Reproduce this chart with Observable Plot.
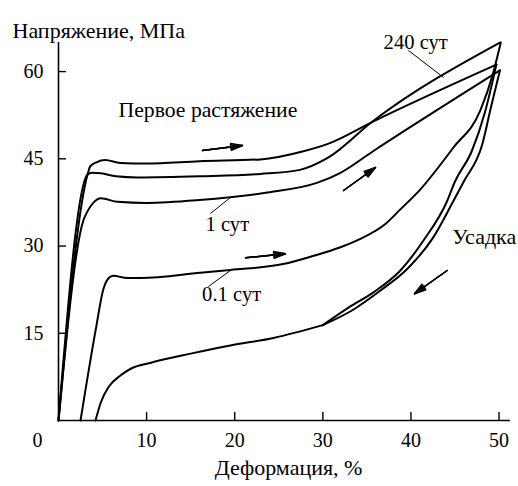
<!DOCTYPE html>
<html>
<head>
<meta charset="utf-8">
<script src="https://cdn.jsdelivr.net/npm/d3@7"></script>
<script src="https://cdn.jsdelivr.net/npm/@observablehq/plot@0.6"></script>
<style>
  body { margin: 0; background: #fff; }
</style>
</head>
<body>
<div id="chart"></div>
<script>
// Stress–strain loops: strain, % (first value) vs stress, MPa (second value)

// loading curves
const loadTop = [[0,0],[3.3,42.3],[3.6,43.7],[4.3,44.4],[5.3,44.8],[7,44.3],[10,44.2],[16,44.6],[22.9,44.9],[27.8,46.3],[30.8,47.7],[35.7,51.4],[49.7,61.2]];
const load240 = [[0,0],[3.3,42.3],[3.8,42.6],[4.8,42.5],[6.5,42.0],[9,41.8],[16,42.0],[22.9,42.4],[27.4,43.1],[30.5,45.1],[35.7,51.5],[50.1,65]];
const load1 = [[0,0],[2.8,34.3],[3.3,36],[4,37.5],[4.8,38.2],[6.7,37.6],[10,37.4],[16,37.9],[23.7,39.2],[29.4,40.9],[32,42.6],[35.7,46.3],[50.1,60.2]];
const load01 = [[2.5,0],[4.2,15.4],[5.1,22.6],[5.7,24.5],[6.2,24.9],[7.8,24.5],[9.3,24.5],[16.1,25.4],[19.5,25.9],[25.5,26.9],[28.9,28.3],[32,29.8],[34.2,31.2],[37.1,33.8],[38.8,36.3],[41.1,39.8],[44.8,46.9],[47.9,53.4],[49.3,59.6],[50.2,65]];

// shrinkage (unloading) curves
const shrinkBase = [[4.2,0],[4.8,3.1],[5.7,5.8],[7,7.7],[8.2,8.9],[10.4,9.9],[15,11.5],[19.5,12.9],[24.4,14.2],[30,16.4]];
const shrinkA = [[30,16.4],[33,19.5],[35.7,22.0],[38.8,25.8],[41.4,30.9],[44.1,37.7],[45,41.1],[46.9,46.3],[48.4,53],[49.7,61.2]];
const shrinkB = [[30,16.4],[33.4,19.0],[36.5,22.3],[39.6,26.1],[42.5,31.4],[44.8,37.7],[46,41.1],[48.1,47.5],[49.1,54],[50.1,60.2]];

const xTicks = [10, 20, 30, 40, 50];
const yTicks = [15, 30, 45, 60];

const curves = {loadTop, load240, load1, load01, shrinkBase, shrinkA, shrinkB};
const rows = Object.entries(curves).flatMap(([name, pts]) =>
  pts.map(([strain, stress]) => ({name, strain, stress})));

// direction arrows
const arrows = [
  {x1: 16.34, y1: 46.43, x2: 20.88, y2: 47.29},
  {x1: 32.35, y1: 39.55, x2: 35.98, y2: 43.51},
  {x1: 21.22, y1: 27.98, x2: 25.76, y2: 28.67},
  {x1: 44.11, y1: 25.80, x2: 40.40, y2: 21.79}
];

// curve labels and their leader lines
const labels = [
  {text: "Первое растяжение", x: 6.81, y: 53.4, size: 21.7},
  {text: "240 сут", x: 36.9, y: 65.0, size: 20.6},
  {text: "1 сут", x: 16.69, y: 33.7, size: 20.6},
  {text: "0.1 сут", x: 16.3, y: 21.7, size: 20.6},
  {text: "Усадка", x: 44.68, y: 31.6, size: 22}
];
const leaders = [
  {x1: 39.72, y1: 63.63, x2: 43.70, y2: 58.98},
  {x1: 17.25, y1: 35.60, x2: 19.52, y2: 38.35},
  {x1: 17.02, y1: 23.04, x2: 19.52, y2: 25.80}
];

const arrowHead = (angle) => Plot.arrow(arrows, {
  x1: "x1", y1: "y1", x2: "x2", y2: "y2",
  stroke: "black", strokeWidth: 1.4, headLength: 13, headAngle: angle
});

const chart = Plot.plot({
  width: 518,
  height: 486,
  marginLeft: 58,
  marginRight: 8,
  marginTop: 42,
  marginBottom: 66,
  style: {fontFamily: "'Liberation Serif', 'Times New Roman', serif", fontSize: "20px", background: "#fff", color: "#000"},
  x: {domain: [0, 51.3], label: null},
  y: {domain: [0, 65], label: null},
  marks: [
    // axis lines and inward ticks
    Plot.ruleX([0], {stroke: "black", strokeWidth: 1.6}),
    Plot.ruleY([0], {stroke: "black", strokeWidth: 1.6}),
    Plot.ruleX(xTicks, {stroke: "black", strokeWidth: 1.4, insetTop: 370}),
    Plot.ruleY(yTicks, {stroke: "black", strokeWidth: 1.4, insetRight: 444}),
    Plot.axisX({ticks: xTicks, tickSize: 0, tickPadding: 12, fontSize: 20}),
    Plot.axisY({ticks: yTicks, tickSize: 0, tickPadding: 15, fontSize: 20}),
    Plot.text([0], {x: 0, y: 0, text: d => String(d), dx: -21, dy: 20, fontSize: 20}),
    // axis titles
    Plot.text(["Напряжение, МПа"], {frameAnchor: "top-left", textAnchor: "start", dx: -46, dy: -20, fontSize: 22}),
    Plot.text(["Деформация, %"], {frameAnchor: "bottom", dx: 4, dy: 54, fontSize: 22}),
    // curves
    Plot.line(rows, {x: "strain", y: "stress", z: "name", stroke: "black", strokeWidth: 2, curve: "monotone-x"}),
    // annotations
    Plot.link(leaders, {x1: "x1", y1: "y1", x2: "x2", y2: "y2", stroke: "black", strokeWidth: 1}),
    arrowHead(34), arrowHead(22), arrowHead(10),
    Plot.text(labels, {x: "x", y: "y", text: "text", textAnchor: "start", fontSize: d => d.size})
  ]
});

document.getElementById("chart").append(chart);
</script>
</body>
</html>
